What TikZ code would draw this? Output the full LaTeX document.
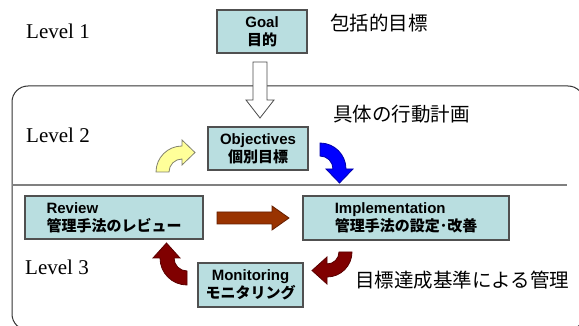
\documentclass[tikz,border=0pt]{standalone}
\usepackage{fontspec}
\setmainfont{Liberation Serif}
\setsansfont{Liberation Sans}
\newfontfamily\jp{Noto Sans CJK JP}
\definecolor{boxfill}{RGB}{185,222,224}
\definecolor{boxline}{RGB}{80,80,80}
\definecolor{brownfill}{RGB}{153,51,0}
\definecolor{brownline}{RGB}{100,30,0}
\definecolor{dkred}{RGB}{128,0,0}
\definecolor{dkredline}{RGB}{90,0,0}
\definecolor{yelfill}{RGB}{255,255,153}
\definecolor{yelline}{RGB}{130,130,110}
\definecolor{bluefill}{RGB}{0,0,255}
\definecolor{blueline}{RGB}{0,0,170}
\definecolor{sepline}{RGB}{128,128,128}
\begin{document}
\begin{tikzpicture}[x=1pt,y=-1pt,
  box/.style={draw=boxline, fill=boxfill, line width=1.1pt, inner sep=0pt,
    font=\fontsize{15}{18}\selectfont\sffamily\bfseries},
  lvl/.style={font=\fontsize{21}{24}\selectfont, anchor=base west, inner sep=0pt},
  jplabel/.style={font=\jp\fontsize{19.5}{22}\selectfont, anchor=west, inner sep=0pt},
  blockarrow/.style={line width=0.8pt, line join=miter}]
\useasboundingbox (0,0) rectangle (579,326);

% outer frame and separator
\draw[line width=1pt, black!80, rounded corners=16pt] (12,86) rectangle (584,330);
\draw[line width=1.4pt, sepline] (12,185) -- (567,185);

% texts
\node[lvl] (l1) at (26,39) {Level 1};
\node[lvl] (l2) at (26,143) {Level 2};
\node[lvl] (l3) at (25,275) {Level 3};
\node[jplabel] (j1) at (330,23.5) {包括的目標};
\node[jplabel] (j2) at (333,114) {具体の行動計画};
\node[jplabel] (j3) at (355,280) {目標達成基準による管理};

% boxes
\node[box, align=center, minimum width=90pt, minimum height=43pt] (goal) at (262,31.5) {Goal\\{\jp 目的}};
\node[box, align=center, minimum width=100pt, minimum height=43pt] (obj) at (258,148.5) {Objectives\\{\jp 個別目標}};
\node[box, align=left, minimum width=178pt, minimum height=43pt] (rev) at (114,217.5) {Review\\{\jp 管理手法のレビュー}};
\node[box, align=left, minimum width=206pt, minimum height=44pt] (impl) at (406,218) {Implementation\\{\jp 管理手法の設定･改善}};
\node[box, align=center, minimum width=105pt, minimum height=44pt] (mon) at (250.5,285) {Monitoring\\{\jp モニタリング}};

% hollow arrow Goal -> Objectives
\draw[blockarrow, draw=black!70, fill=white]
  (253,62) -- (253,100) -- (246,100) -- (260,118) -- (274,100) -- (267,100) -- (267,62) -- cycle;

% brown arrow Review -> Implementation
\draw[blockarrow, draw=brownline, fill=brownfill]
  (217,212) -- (272,212) -- (272,206) -- (289,218) -- (272,230) -- (272,224) -- (217,224) -- cycle;

% yellow curved arrow
\draw[blockarrow, draw=yelline, fill=yelfill]
  (156,172) arc[start angle=180, end angle=270, radius=26]
  -- (182,140) -- (195,152.5) -- (182,165) -- (182,159)
  arc[start angle=270, end angle=180, radius=13] -- cycle;

% blue curved arrow
\draw[blockarrow, draw=blueline, fill=bluefill]
  (320,143) arc[start angle=270, end angle=360, radius=26]
  -- (353,169) -- (339.5,183) -- (326,169) -- (333,169)
  arc[start angle=360, end angle=270, radius=13] -- cycle;

% dark red curved arrow Implementation -> Monitoring
\draw[blockarrow, draw=dkredline, fill=dkred]
  (352,252) arc[start angle=0, end angle=90, radius=25]
  -- (327,284) -- (312,270.5) -- (327,257) -- (327,264)
  arc[start angle=90, end angle=0, radius=12] -- cycle;

% dark red curved arrow Monitoring -> Review
\draw[blockarrow, draw=dkredline, fill=dkred]
  (187,285) arc[start angle=90, end angle=180, radius=27]
  -- (153,258) -- (166.5,243) -- (180,258) -- (174,258)
  arc[start angle=180, end angle=90, radius=13] -- cycle;
\end{tikzpicture}
\end{document}
